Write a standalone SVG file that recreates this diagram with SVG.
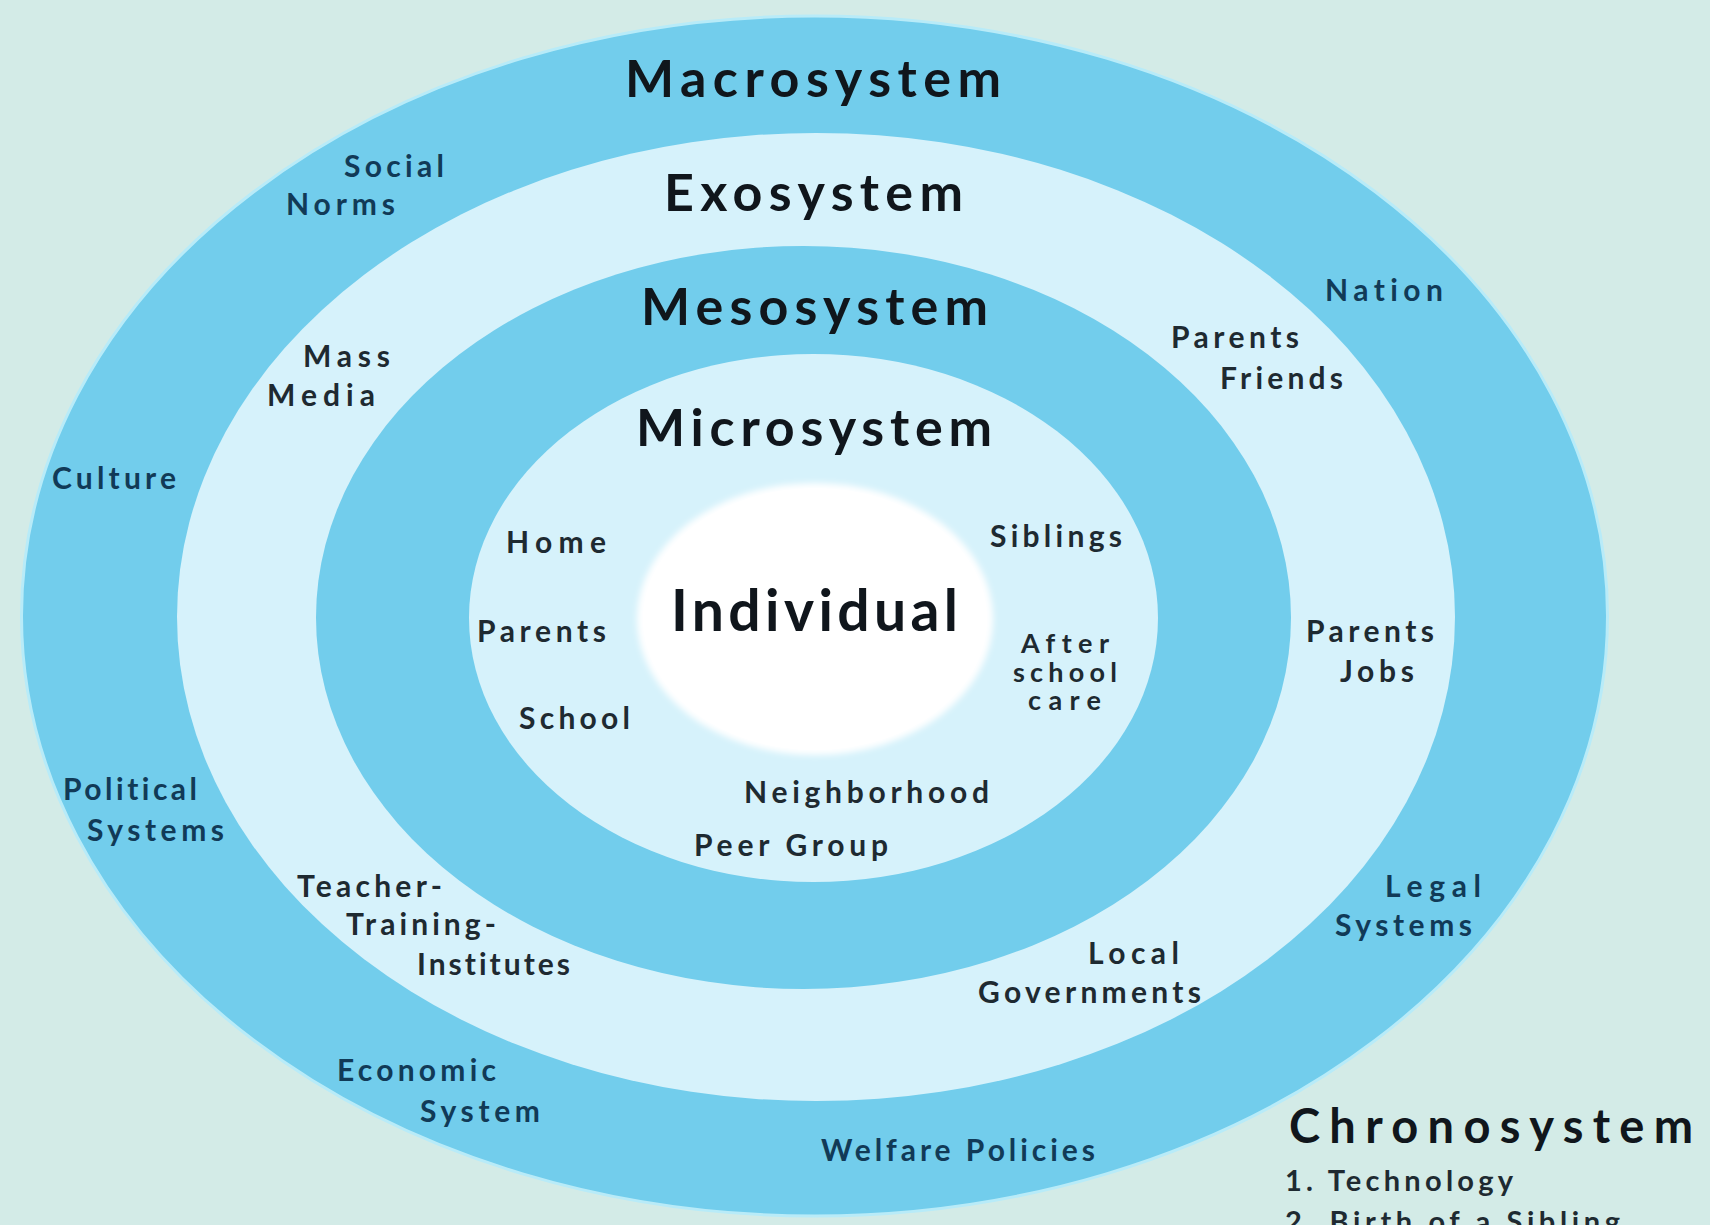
<svg xmlns="http://www.w3.org/2000/svg" width="1710" height="1225" viewBox="0 0 1710 1225">
  <defs>
    <style>
      .ring-blue { fill: #72cdec; }
      .ring-light { fill: #d6f2fb; }
      text { font-variant-ligatures: none; font-feature-settings: "liga" 0; }
      .title { font-family: Lato, "Open Sans", "Liberation Sans", sans-serif; font-weight: 700; fill: #10161c; font-size: 52px; }
      .label { font-family: Lato, "Open Sans", "Liberation Sans", sans-serif; font-weight: 700; font-size: 30px; }
      .macro-label { fill: #113a57; }
      .inner-label { fill: #1e2a31; }
      .small { font-size: 27px; }
      .chrono-item { font-family: Lato, "Open Sans", "Liberation Sans", sans-serif; font-weight: 700; font-size: 29px; fill: #1e2a31; }
    </style>
    <filter id="soft" x="-10%" y="-10%" width="120%" height="120%">
      <feGaussianBlur stdDeviation="3"/>
    </filter>
  </defs>

  <rect x="0" y="0" width="1710" height="1225" fill="#d3ebe7"/>

  <g id="macrosystem">
    <ellipse cx="814.5" cy="616" rx="793" ry="600" class="ring-blue" stroke="#b8ebf8" stroke-width="3"/>
    <text class="title" x="625" y="97" textLength="376">Macrosystem</text>
  </g>

  <g id="exosystem">
    <ellipse cx="816" cy="617" rx="639" ry="484" class="ring-light"/>
    <text class="title" x="664" y="211" textLength="299">Exosystem</text>
  </g>

  <g id="mesosystem">
    <ellipse cx="803.5" cy="617.5" rx="487.5" ry="371.5" class="ring-blue"/>
    <text class="title" x="641" y="325" textLength="347">Mesosystem</text>
  </g>

  <g id="microsystem">
    <ellipse cx="813.5" cy="618" rx="344.5" ry="264" class="ring-light"/>
    <text class="title" x="636" y="446" textLength="356">Microsystem</text>
  </g>

  <g id="individual">
    <ellipse cx="815" cy="619" rx="178" ry="136" fill="#ffffff" filter="url(#soft)"/>
    <ellipse cx="815" cy="619" rx="172" ry="131" fill="#ffffff"/>
    <text class="title" x="671" y="631" textLength="287" style="font-size:57px">Individual</text>
  </g>

  <g id="macro-labels" class="label macro-label">
    <g id="social-norms">
      <text x="344" y="177" textLength="100">Social</text>
      <text x="286" y="215" textLength="109">Norms</text>
    </g>
    <g id="culture"><text x="52" y="489" textLength="124">Culture</text></g>
    <g id="nation"><text x="1325" y="301" textLength="118">Nation</text></g>
    <g id="political-systems">
      <text x="63" y="800" textLength="134">Political</text>
      <text x="87" y="841" textLength="137">Systems</text>
    </g>
    <g id="legal-systems">
      <text x="1385" y="897" textLength="96">Legal</text>
      <text x="1335" y="936" textLength="137">Systems</text>
    </g>
    <g id="economic-system">
      <text x="337" y="1081" textLength="159">Economic</text>
      <text x="420" y="1122" textLength="120">System</text>
    </g>
    <g id="welfare-policies"><text x="821" y="1161" textLength="274">Welfare Policies</text></g>
  </g>

  <g id="exo-labels" class="label inner-label">
    <g id="mass-media">
      <text x="303" y="367" textLength="87">Mass</text>
      <text x="267" y="406" textLength="108">Media</text>
    </g>
    <g id="parents-friends">
      <text x="1171" y="348" textLength="128">Parents</text>
      <text x="1220" y="389" textLength="123">Friends</text>
    </g>
    <g id="parents-jobs">
      <text x="1306" y="642" textLength="128">Parents</text>
      <text x="1340" y="682" textLength="74">Jobs</text>
    </g>
    <g id="teacher-training-institutes">
      <text x="297" y="897" textLength="145">Teacher-</text>
      <text x="346" y="935" textLength="150">Training-</text>
      <text x="417" y="975" textLength="153">Institutes</text>
    </g>
    <g id="local-governments">
      <text x="1088" y="964" textLength="91">Local</text>
      <text x="978" y="1003" textLength="223">Governments</text>
    </g>
  </g>

  <g id="micro-labels" class="label inner-label">
    <g id="home"><text x="506" y="553" textLength="100">Home</text></g>
    <g id="parents-micro"><text x="477" y="642" textLength="129">Parents</text></g>
    <g id="school"><text x="519" y="729" textLength="111">School</text></g>
    <g id="siblings"><text x="990" y="547" textLength="132">Siblings</text></g>
    <g id="after-school-care" class="small">
      <text x="1021" y="653" textLength="88">After</text>
      <text x="1013" y="682" textLength="104">school</text>
      <text x="1028" y="710" textLength="73">care</text>
    </g>
    <g id="neighborhood"><text x="744" y="803" textLength="245">Neighborhood</text></g>
    <g id="peer-group"><text x="694" y="856" textLength="194">Peer Group</text></g>
  </g>

  <g id="chronosystem">
    <text class="title" x="1289" y="1143" textLength="404" style="font-size:47px">Chronosystem</text>
    <text class="chrono-item" x="1285" y="1191" textLength="228">1. Technology</text>
    <text class="chrono-item" x="1285" y="1232" textLength="335">2. Birth of a Sibling</text>
  </g>

  <g id="connectors"></g>
</svg>
